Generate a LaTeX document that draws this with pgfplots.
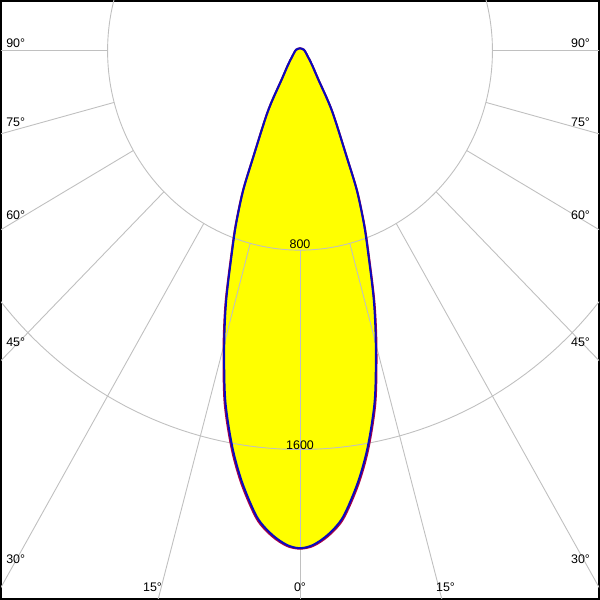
\documentclass[border=0pt]{standalone}
\usepackage{pgfplots}
\pgfplotsset{compat=1.18}
\usepackage{fontspec}
\setmainfont{Liberation Sans}
\definecolor{gridc}{RGB}{192,192,192}
\definecolor{curveblue}{RGB}{10,10,190}
\definecolor{curvered}{RGB}{170,0,70}
\definecolor{fillyel}{RGB}{255,255,0}
\tikzset{lbl/.style={font=\fontsize{12.5}{14}\selectfont, inner sep=0pt}}
\begin{document}
\begin{tikzpicture}
\begin{axis}[
  width=600pt, height=600pt, scale only axis,
  xmin=-1243, xmax=1243, ymin=-2200, ymax=200,
  xtick=\empty, ytick=\empty,
  axis line style={black, line width=2pt},
  clip=true,
]
% fill of C90-C270 curve
\addplot[fill=fillyel, draw=none, data cs=polar, smooth] coordinates {
(90,10) (166.5,17) (215.9,41) (228.4,75) (236.3,135) (241.1,274) (245.53,470) (247.13,608) (249.03,741) (250.6,848) (252.95,1046) (255.05,1221) (257.48,1434) (259.94,1613) (262.1,1749) (264.55,1880) (266.56,1945) (268.43,1984) (270,1996)
(271.57,1984) (273.44,1945) (275.45,1880) (277.9,1749) (280.06,1613) (282.52,1434) (284.95,1221) (287.05,1046) (289.4,848) (290.97,741) (292.87,608) (294.47,470) (298.9,274) (303.7,135) (311.6,75) (324.1,41) (373.5,17) (450,10)
};
% grid circles
\addplot[gridc, line width=0.9pt, data cs=polar, domain=0:360, samples=241] ({x},{800});
\addplot[gridc, line width=0.9pt, data cs=polar, domain=0:360, samples=241] ({x},{1600});
% radial lines
\addplot[gridc, line width=0.9pt, data cs=polar] coordinates {(180,800) (180,4000)};
\addplot[gridc, line width=0.9pt, data cs=polar] coordinates {(195,800) (195,4000)};
\addplot[gridc, line width=0.9pt, data cs=polar] coordinates {(210,800) (210,4000)};
\addplot[gridc, line width=0.9pt, data cs=polar] coordinates {(225,800) (225,4000)};
\addplot[gridc, line width=0.9pt, data cs=polar] coordinates {(240,800) (240,4000)};
\addplot[gridc, line width=0.9pt, data cs=polar] coordinates {(255,800) (255,4000)};
\addplot[gridc, line width=0.9pt, data cs=polar] coordinates {(270,800) (270,4000)};
\addplot[gridc, line width=0.9pt, data cs=polar] coordinates {(285,800) (285,4000)};
\addplot[gridc, line width=0.9pt, data cs=polar] coordinates {(300,800) (300,4000)};
\addplot[gridc, line width=0.9pt, data cs=polar] coordinates {(315,800) (315,4000)};
\addplot[gridc, line width=0.9pt, data cs=polar] coordinates {(330,800) (330,4000)};
\addplot[gridc, line width=0.9pt, data cs=polar] coordinates {(345,800) (345,4000)};
\addplot[gridc, line width=0.9pt, data cs=polar] coordinates {(360,800) (360,4000)};
% C0-C180 curve (red)
\addplot[curvered, line width=2pt, data cs=polar, smooth] coordinates {
(90,10) (166.5,17) (215.9,41) (228.4,75) (236.3,136) (241.1,276) (245.53,474) (247.13,613) (249.03,747) (250.6,855) (252.95,1055) (255.05,1232) (257.48,1446) (259.94,1624) (262.1,1759) (264.55,1888) (266.56,1951) (268.43,1988) (270,1998)
(271.57,1988) (273.44,1951) (275.45,1888) (277.9,1759) (280.06,1624) (282.52,1446) (284.95,1232) (287.05,1055) (289.4,855) (290.97,747) (292.87,613) (294.47,474) (298.9,276) (303.7,136) (311.6,75) (324.1,41) (373.5,17) (450,10)
};
% C90-C270 curve (blue)
\addplot[curveblue, line width=2pt, data cs=polar, smooth] coordinates {
(90,10) (166.5,17) (215.9,41) (228.4,75) (236.3,135) (241.1,274) (245.53,470) (247.13,608) (249.03,741) (250.6,848) (252.95,1046) (255.05,1221) (257.48,1434) (259.94,1613) (262.1,1749) (264.55,1880) (266.56,1945) (268.43,1984) (270,1996)
(271.57,1984) (273.44,1945) (275.45,1880) (277.9,1749) (280.06,1613) (282.52,1434) (284.95,1221) (287.05,1046) (289.4,848) (290.97,741) (292.87,608) (294.47,470) (298.9,274) (303.7,135) (311.6,75) (324.1,41) (373.5,17) (450,10)
};
% value labels
\node[lbl] at (axis cs:0,-776) {800};
\node[lbl] at (axis cs:0,-1584) {1600};
% angle labels left
\node[lbl, anchor=west] at (axis cs:-1222,32) {90°};
\node[lbl, anchor=west] at (axis cs:-1222,-288) {75°};
\node[lbl, anchor=west] at (axis cs:-1222,-660) {60°};
\node[lbl, anchor=west] at (axis cs:-1222,-1168) {45°};
\node[lbl, anchor=west] at (axis cs:-1222,-2040) {30°};
% angle labels right
\node[lbl, anchor=east] at (axis cs:1206,32) {90°};
\node[lbl, anchor=east] at (axis cs:1206,-288) {75°};
\node[lbl, anchor=east] at (axis cs:1206,-660) {60°};
\node[lbl, anchor=east] at (axis cs:1206,-1168) {45°};
\node[lbl, anchor=east] at (axis cs:1206,-2040) {30°};
% bottom labels
\node[lbl] at (axis cs:-613,-2152) {15°};
\node[lbl] at (axis cs:0,-2152) {0°};
\node[lbl] at (axis cs:605,-2152) {15°};
\end{axis}
\end{tikzpicture}
\end{document}
